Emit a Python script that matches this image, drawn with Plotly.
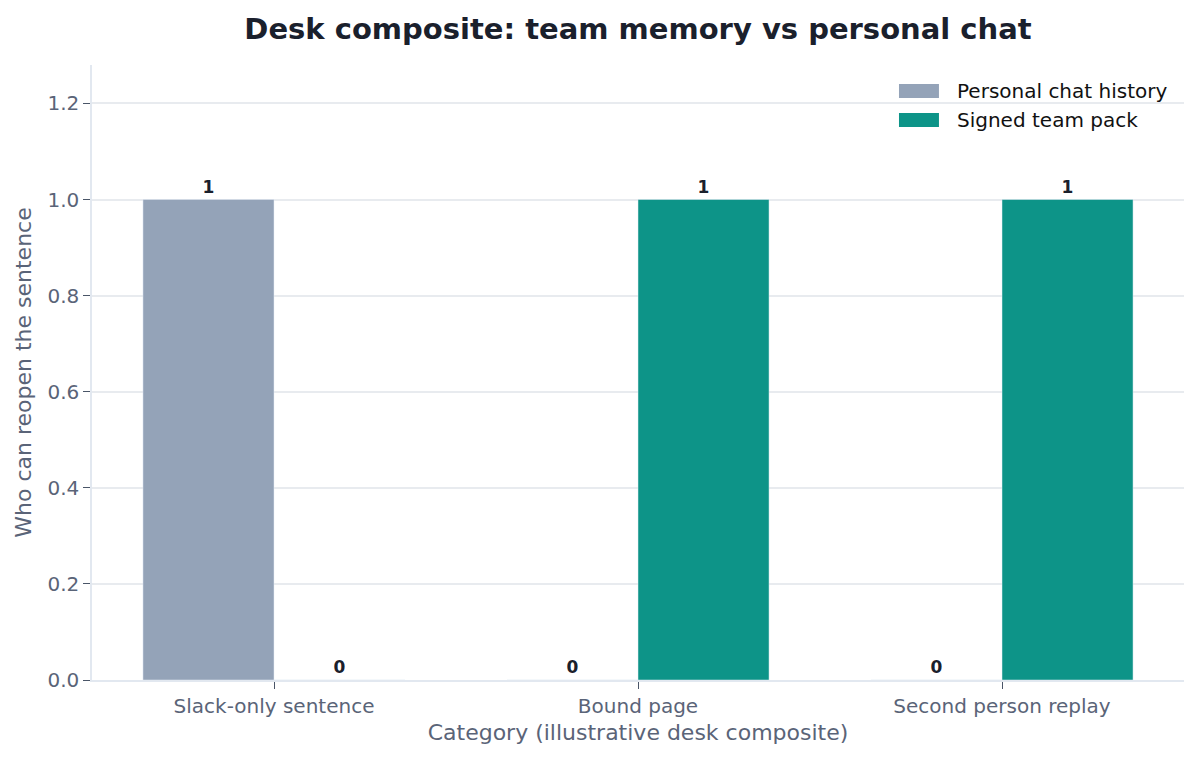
import plotly.graph_objects as go

categories = ["Slack-only sentence", "Bound page", "Second person replay"]
series_names = ["Personal chat history", "Signed team pack"]
personal_chat = [1, 0, 0]
team_pack = [0, 1, 1]

grey = "#94a3b8"
teal = "#0d9488"
ink = "#1a202c"
slate = "#5a6478"
colors = [grey, teal]

fig = go.Figure()
for name, vals, col in zip(series_names, [personal_chat, team_pack], colors):
    fig.add_trace(go.Bar(x=categories, y=vals, name=name,
                         marker_color=col, text=vals, textposition="outside",
                         textfont=dict(size=17, color=ink, family="DejaVu Sans", weight="bold"),
                         cliponaxis=False, showlegend=False))

# matplotlib-style legend with wide rectangular patches
row_y = [0.9577, 0.9106]
for name, col, yc in zip(series_names, colors, row_y):
    fig.add_shape(type="rect", xref="paper", yref="paper",
                  x0=0.739, x1=0.7756, y0=yc - 0.0114, y1=yc + 0.0114,
                  fillcolor=col, line_width=0)
    fig.add_annotation(text=name, xref="paper", yref="paper", x=0.7903, y=yc,
                       xanchor="left", yanchor="middle", showarrow=False,
                       font=dict(size=20, color="#111111"))

fig.update_layout(
    width=1183, height=744,
    barmode="group", bargap=0.28, bargroupgap=0,
    plot_bgcolor="white", paper_bgcolor="white",
    font=dict(family="DejaVu Sans", color=slate, size=20),
    title=dict(text="<b>Desk composite: team memory vs personal chat</b>",
               x=0.5325, xanchor="center", y=0.972, yanchor="middle",
               font=dict(size=29, color=ink)),
    margin=dict(l=84, r=7, t=57, b=72),
    showlegend=False,
)
fig.update_xaxes(
    title=dict(text="Category (illustrative desk composite)", font=dict(size=22, color=slate), standoff=8),
    showgrid=False, showline=True, linecolor="#e2e8f0", linewidth=1.5,
    ticks="outside", ticklen=7, tickcolor="#4a5568", tickfont=dict(size=20, color=slate),
    range=[-0.5, 2.5],
)
fig.update_yaxes(
    title=dict(text="Who can reopen the sentence", font=dict(size=22, color=slate), standoff=10),
    range=[0, 1.28], dtick=0.2, tickformat=".1f",
    showgrid=True, gridcolor="#e8ebef", gridwidth=1.5,
    showline=True, linecolor="#e2e8f0", linewidth=1.5, zeroline=False,
    ticks="outside", ticklen=7, tickcolor="#4a5568", tickfont=dict(size=20, color=slate),
)

fig.write_html("out.html")
